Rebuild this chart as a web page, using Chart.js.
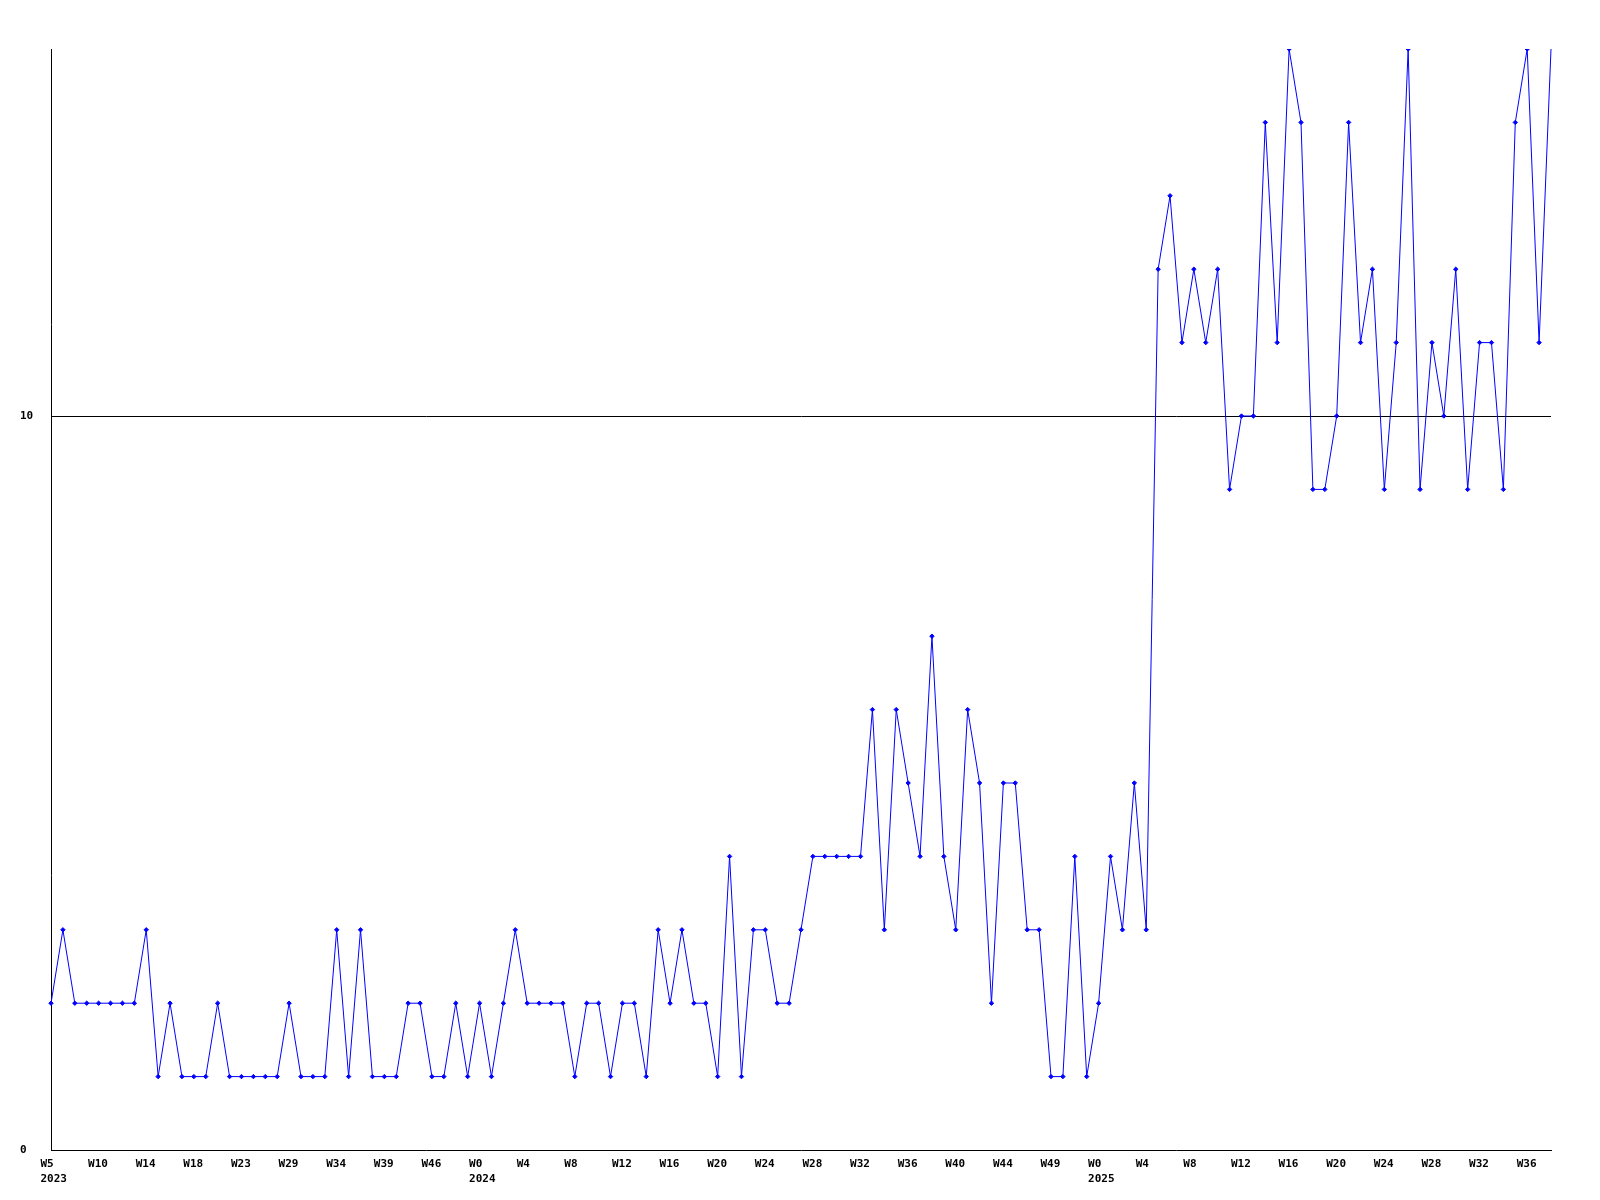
<!DOCTYPE html>
<html>
<head>
<meta charset="utf-8">
<script src="https://cdn.jsdelivr.net/npm/chart.js@4.4.1/dist/chart.umd.min.js"></script>
<style>
html, body { margin: 0; padding: 0; background: #ffffff; }
#wrap { width: 1600px; height: 1200px; position: relative; }
</style>
</head>
<body>
<div id="wrap"><canvas id="weeklyChart" width="1600" height="1200"></canvas></div>
<script>
const counts = [
2, 3, 2, 2, 2, 2, 2, 2, 3, 1,
2, 1, 1, 1, 2, 1, 1, 1, 1, 1,
2, 1, 1, 1, 3, 1, 3, 1, 1, 1,
2, 2, 1, 1, 2, 1, 2, 1, 2, 3,
2, 2, 2, 2, 1, 2, 2, 1, 2, 2,
1, 3, 2, 3, 2, 2, 1, 4, 1, 3,
3, 2, 2, 3, 4, 4, 4, 4, 4, 6,
3, 6, 5, 4, 7, 4, 3, 6, 5, 2,
5, 5, 3, 3, 1, 1, 4, 1, 2, 4,
3, 5, 3, 12, 13, 11, 12, 11, 12, 9,
10, 10, 14, 11, 15, 14, 9, 9, 10, 14,
11, 12, 9, 11, 15, 9, 11, 10, 12, 9,
11, 11, 9, 14, 15, 11, 15
];
const tickWeeks = ['W5', 'W10', 'W14', 'W18', 'W23', 'W29', 'W34', 'W39', 'W46',
'W0', 'W4', 'W8', 'W12', 'W16', 'W20', 'W24', 'W28', 'W32', 'W36', 'W40', 'W44', 'W49',
'W0', 'W4', 'W8', 'W12', 'W16', 'W20', 'W24', 'W28', 'W32', 'W36'];
const tickYears = { 0: '2023', 9: '2024', 22: '2025' };
const TICK_EVERY = 4;
const yTicks = [0, 10];
const yMax = 15;

const labels = counts.map(function(_, i) { return i; });
const tickFont = { family: 'DejaVu Sans Mono', size: 11, weight: 'bold', lineHeight: 1.35 };

function xTickLabel(value, index) {
if (index % TICK_EVERY !== 0) return null;
const k = index / TICK_EVERY;
if (k >= tickWeeks.length) return null;
return tickYears[k] ? [tickWeeks[k], tickYears[k]] : tickWeeks[k];
}

// the last point sits on the plot edge and shows no marker in the original
function markerRadius(c) {
return c.dataIndex === counts.length - 1 ? 0 : 2.2;
}

const ctx = document.getElementById('weeklyChart').getContext('2d');
window.weeklyChart = new Chart(ctx, {
type: 'line',
data: { labels: labels, datasets: [
{ data: counts, borderColor: '#0000ff', backgroundColor: '#0000ff', borderWidth: 1, tension: 0,
pointStyle: 'rectRot', pointRadius: markerRadius, pointBorderWidth: 1, fill: false }
] },
options: {
responsive: false, animation: false, devicePixelRatio: 1,
layout: { padding: { top: 49, right: 49, left: 20, bottom: 0 } },
plugins: { legend: { display: false }, tooltip: { enabled: false } },
scales: {
x: {
type: 'category', offset: false,
grid: { display: false, drawTicks: false },
border: { display: true, color: '#000000', width: 1 },
afterFit: function(scale) { scale.height = 50; },
ticks: { autoSkip: false, maxRotation: 0, minRotation: 0, align: 'start', labelOffset: -10.5, padding: 7,
color: '#000000', font: tickFont, callback: xTickLabel }
},
y: {
min: 0, max: yMax,
afterBuildTicks: function(scale) { scale.ticks = yTicks.map(function(v) { return { value: v }; }); },
afterFit: function(scale) { scale.width = 31; },
grid: { color: function(c) { return c.tick && c.tick.value === 10 ? '#000000' : 'rgba(0,0,0,0)'; }, lineWidth: 1, drawTicks: false },
border: { display: true, color: '#000000', width: 1 },
ticks: { crossAlign: 'far', padding: 0, color: '#000000', font: { family: 'DejaVu Sans Mono', size: 11, weight: 'bold' } }
}
}
}
});
</script>
</body>
</html>
